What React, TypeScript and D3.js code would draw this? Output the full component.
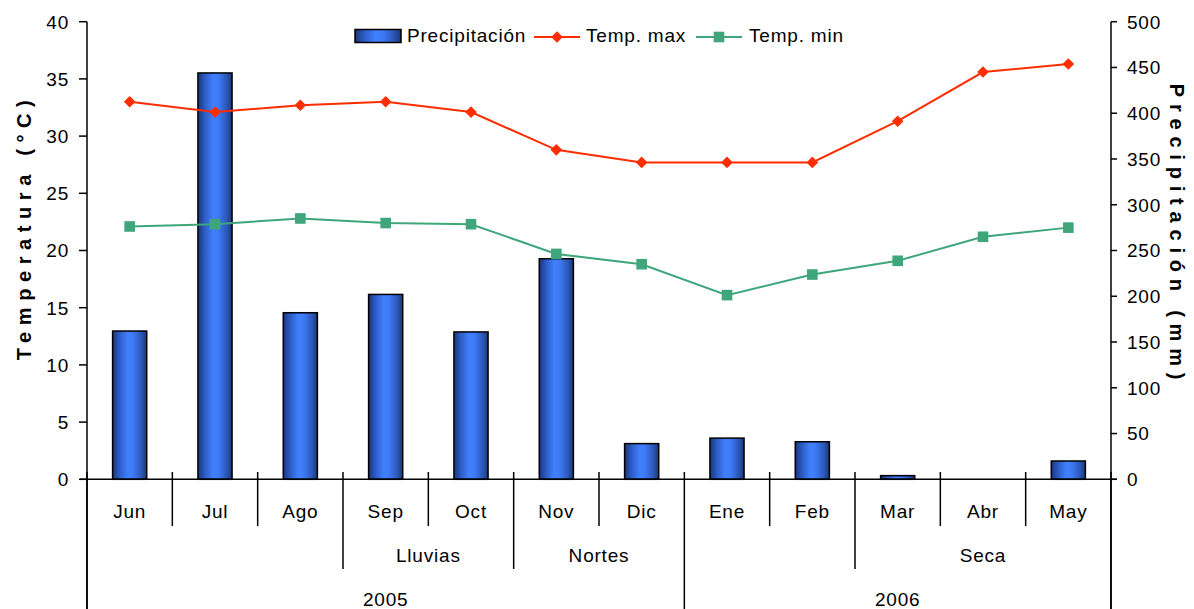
import React from "react";
import * as d3 from "d3";

const months = ["Jun", "Jul", "Ago", "Sep", "Oct", "Nov", "Dic", "Ene", "Feb", "Mar", "Abr", "May"];
const precipitation = [162, 444, 182, 202, 161, 241, 39, 45, 41, 4, 0, 20];
const tempMax = [33.0, 32.1, 32.7, 33.0, 32.1, 28.8, 27.7, 27.7, 27.7, 31.3, 35.6, 36.3];
const tempMin = [22.1, 22.3, 22.8, 22.4, 22.3, 19.7, 18.8, 16.1, 17.9, 19.1, 21.2, 22.0];
const seasonLabels = ["", "Lluvias", "Nortes", "", "Seca"];
const seasonStarts = [0, 3, 5, 7, 9];
const seasonEnds = [3, 5, 7, 9, 12];
const yearLabels = ["2005", "2006"];
const yearStarts = [0, 7];
const yearEnds = [7, 12];
const leftTicks = [0, 5, 10, 15, 20, 25, 30, 35, 40];
const rightTicks = [0, 50, 100, 150, 200, 250, 300, 350, 400, 450, 500];

const W = 1194;
const H = 609;
const X0 = 87;
const X1 = 1111;
const Y0 = 479.3;
const Y1 = 21.7;
const FONT = "'Liberation Sans', Arial, sans-serif";
const RED = "#ff2d00";
const GREEN = "#3ea67a";

export default function App() {
  const x = d3.scaleBand<string>().domain(months).range([X0, X1]).paddingInner(0).paddingOuter(0);
  const bw = x.bandwidth();
  const yL = d3.scaleLinear().domain([0, 40]).range([Y0, Y1]);
  const yR = d3.scaleLinear().domain([0, 500]).range([Y0, Y1]);
  const cx = (i: number) => (x(months[i]) as number) + bw / 2;
  const bx = (i: number) => X0 + i * bw;

  const lineMax = d3
    .line<number>()
    .x((_, i) => cx(i))
    .y((d) => yL(d))(tempMax) as string;
  const lineMin = d3
    .line<number>()
    .x((_, i) => cx(i))
    .y((d) => yL(d))(tempMin) as string;

  const barW = bw * 0.4;

  const boundaries = d3.range(0, months.length + 1).map((i) => {
    let bottom = 526;
    if (yearStarts.includes(i) || yearEnds.includes(i)) bottom = 609;
    else if (seasonStarts.includes(i) || seasonEnds.includes(i)) bottom = 569;
    return { i, bottom };
  });

  const diamond = (px: number, py: number, r: number) =>
    `M${px},${py - r}L${px + r},${py}L${px},${py + r}L${px - r},${py}Z`;

  const textStyle: React.CSSProperties = { fontFamily: FONT, fontSize: 19, letterSpacing: 0.8 };

  return (
    <svg
      width={W}
      height={H}
      style={{ position: "absolute", left: 0, top: 0, display: "block", background: "#fff" }}
    >
      <defs>
        <linearGradient id="barGrad" x1="0" x2="1" y1="0" y2="0">
          <stop offset="0%" stopColor="#1b3579" />
          <stop offset="20%" stopColor="#2d5cc4" />
          <stop offset="45%" stopColor="#4080ff" />
          <stop offset="60%" stopColor="#3d7af5" />
          <stop offset="85%" stopColor="#2a56b5" />
          <stop offset="100%" stopColor="#1b3579" />
        </linearGradient>
      </defs>
      <rect x={0} y={0} width={W} height={H} fill="#fff" />

      {/* bars */}
      {precipitation.map((v, i) =>
        v > 0 ? (
          <rect
            key={"b" + i}
            x={cx(i) - barW / 2}
            y={yR(v)}
            width={barW}
            height={Y0 - yR(v)}
            fill="url(#barGrad)"
            stroke="#000"
            strokeWidth={1.5}
          />
        ) : null
      )}

      {/* lines */}
      <path d={lineMax} fill="none" stroke={RED} strokeWidth={2} />
      <path d={lineMin} fill="none" stroke={GREEN} strokeWidth={2} />
      {tempMax.map((v, i) => (
        <path key={"dm" + i} d={diamond(cx(i), yL(v), 5.8)} fill={RED} />
      ))}
      {tempMin.map((v, i) => (
        <rect key={"sm" + i} x={cx(i) - 5.3} y={yL(v) - 5.3} width={10.6} height={10.6} fill={GREEN} />
      ))}

      {/* axes */}
      <line x1={X0} x2={X0} y1={Y1} y2={H} stroke="#000" strokeWidth={1.5} />
      <line x1={X1} x2={X1} y1={Y1} y2={H} stroke="#000" strokeWidth={1.5} />
      <line x1={X0 - 7} x2={X1 + 6} y1={Y0} y2={Y0} stroke="#000" strokeWidth={1.5} />
      {leftTicks.map((t) => (
        <g key={"lt" + t}>
          <line x1={X0 - 8} x2={X0} y1={yL(t)} y2={yL(t)} stroke="#000" strokeWidth={1.5} />
          <text x={69} y={yL(t)} dy="0.36em" textAnchor="end" style={textStyle}>
            {t}
          </text>
        </g>
      ))}
      {rightTicks.map((t) => (
        <g key={"rt" + t}>
          <line x1={X1} x2={X1 + 6} y1={yR(t)} y2={yR(t)} stroke="#000" strokeWidth={1.5} />
          <text x={1127} y={yR(t)} dy="0.36em" textAnchor="start" style={textStyle}>
            {t}
          </text>
        </g>
      ))}

      {/* category separators */}
      {boundaries.map((b) => (
        <line
          key={"sep" + b.i}
          x1={bx(b.i)}
          x2={bx(b.i)}
          y1={472}
          y2={b.bottom}
          stroke="#000"
          strokeWidth={1.5}
        />
      ))}
      {months.map((m, i) => (
        <text key={"m" + m} x={cx(i)} y={517.5} textAnchor="middle" style={textStyle}>
          {m}
        </text>
      ))}
      {seasonLabels.map((s, k) =>
        s ? (
          <text
            key={"s" + k}
            x={(bx(seasonStarts[k]) + bx(seasonEnds[k])) / 2}
            y={561.5}
            textAnchor="middle"
            style={textStyle}
          >
            {s}
          </text>
        ) : null
      )}
      {yearLabels.map((s, k) => (
        <text
          key={"y" + k}
          x={(bx(yearStarts[k]) + bx(yearEnds[k])) / 2}
          y={606}
          textAnchor="middle"
          style={textStyle}
        >
          {s}
        </text>
      ))}

      {/* axis titles */}
      <text
        transform="translate(24,227) rotate(-90)"
        textAnchor="middle"
        dy="0.35em"
        style={{ fontFamily: FONT, fontSize: 20, fontWeight: "bold", letterSpacing: 6.6 }}
      >
        Temperatura (°C)
      </text>
      <text
        transform="translate(1177,235) rotate(90)"
        textAnchor="middle"
        dy="0.35em"
        style={{ fontFamily: FONT, fontSize: 20, fontWeight: "bold", letterSpacing: 6.8 }}
      >
        Precipitación (mm)
      </text>

      {/* legend */}
      <rect x={355} y={29.5} width={46} height={13} fill="url(#barGrad)" stroke="#000" strokeWidth={1.5} />
      <text x={407} y={41.5} style={textStyle}>
        Precipitación
      </text>
      <line x1={534} x2={580} y1={37} y2={37} stroke={RED} strokeWidth={2} />
      <path d={diamond(557, 37, 5.8)} fill={RED} />
      <text x={586} y={41.5} style={textStyle}>
        Temp. max
      </text>
      <line x1={696} x2={742} y1={37} y2={37} stroke={GREEN} strokeWidth={2} />
      <rect x={719 - 5.3} y={37 - 5.3} width={10.6} height={10.6} fill={GREEN} />
      <text x={749} y={41.5} style={textStyle}>
        Temp. min
      </text>
    </svg>
  );
}
